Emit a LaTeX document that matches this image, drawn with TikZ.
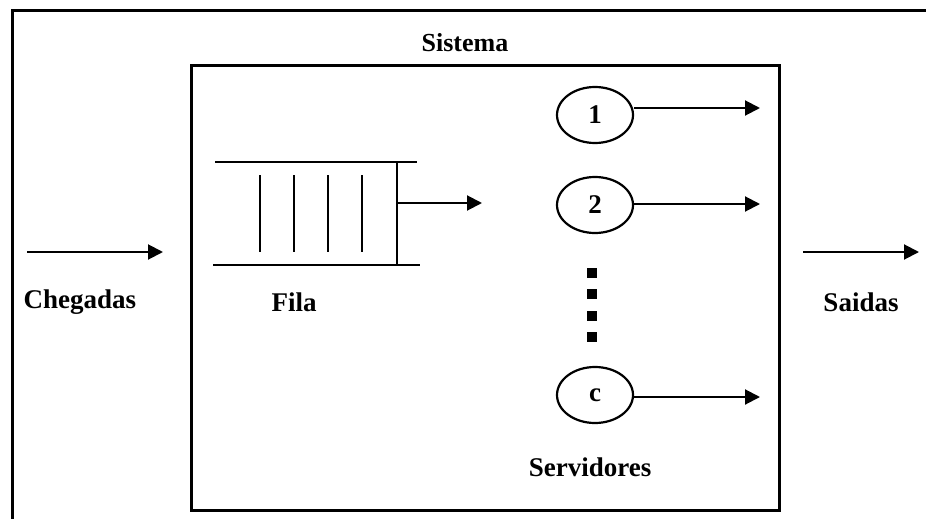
\documentclass[tikz,border=0pt]{standalone}
\usepackage{fontspec}
\setmainfont{Liberation Serif}
\usetikzlibrary{arrows.meta,shapes.geometric}
\tikzset{
  lbl/.style={font=\fontsize{27}{31}\selectfont\bfseries, inner sep=0pt},
  title/.style={font=\fontsize{26}{30}\selectfont\bfseries, inner sep=0pt},
  frame/.style={line width=3pt},
  qline/.style={line width=2.3pt},
  flow/.style={line width=2pt, -{Triangle[length=15pt,width=15pt]}},
  server/.style={ellipse, draw, line width=2.2pt, minimum width=76pt, minimum height=56pt,
    inner sep=0pt, font=\fontsize{27}{31}\selectfont\bfseries},
  dot/.style={fill=black, minimum size=10pt, inner sep=0pt}
}
\begin{document}
\begin{tikzpicture}[x=1pt,y=-1pt]
\useasboundingbox (0,0) rectangle (926,519);
\begin{scope}
\clip (0,0) rectangle (926,519);
% outer frame (open to the right and bottom)
\draw[frame] (12,530) -- (12,11) -- (940,11);
\end{scope}
% system box
\draw[frame] (191,66) rectangle (779,510);

% labels
\node[title] (sistema) at (465,43) {Sistema};
\node[lbl] (cheg) at (80,302) {Chegadas};
\node[lbl] (fila) at (294,302) {Fila};
\node[lbl] (saidas) at (861,302) {Saidas};
\node[lbl] (serv) at (590,467) {Servidores};

% queue
\draw[qline] (215,162) -- (417,162);
\draw[qline] (213,265) -- (420,265);
\draw[qline] (397,162) -- (397,265);
\foreach \x in {260,294,328,362}
  \draw[qline] (\x,175) -- (\x,252);
\coordinate (qout) at (397,203);
\coordinate (qend) at (482,203);
\draw[flow] (qout) -- (qend);

% servers
\node[server] (s1) at (595,115) {1};
\node[server] (s2) at (595,205) {2};
\node[server] (sc) at (595,395) {c};
\coordinate (o1) at (760,108);
\coordinate (o2) at (760,204);
\coordinate (oc) at (760,397);
\draw[flow] (s1.east |- o1) -- (o1);
\draw[flow] (s2.east |- o2) -- (o2);
\draw[flow] (sc.east |- oc) -- (oc);

% ellipsis between servers
\foreach \y [count=\i] in {273,294,316,337}
  \node[dot] (d\i) at (591.5,\y) {};

% arrivals and departures
\coordinate (in0) at (27,252);
\coordinate (in1) at (163,252);
\draw[flow] (in0) -- (in1);
\coordinate (out0) at (803,252);
\coordinate (out1) at (919,252);
\draw[flow] (out0) -- (out1);
\end{tikzpicture}
\end{document}
